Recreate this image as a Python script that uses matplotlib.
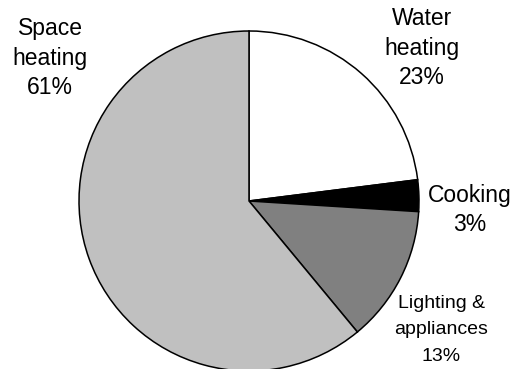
import matplotlib
matplotlib.use("Agg")
import matplotlib.pyplot as plt

categories = ["Water\nheating", "Cooking", "Lighting &\nappliances", "Space\nheating"]
shares = [23, 3, 13, 61]
colors = ["#ffffff", "#000000", "#808080", "#c0c0c0"]

W, H = 519, 369
fig = plt.figure(figsize=(W / 100, H / 100), dpi=100)
ax = fig.add_axes([0, 0, 1, 1])

cx, cy, r = 249, H - 201, 170
ax.pie(shares, colors=colors, startangle=90, counterclock=False,
       center=(cx, cy), radius=r, frame=True,
       wedgeprops=dict(edgecolor="black", linewidth=1.1))
ax.set_xlim(0, W)
ax.set_ylim(0, H)
ax.set_aspect("equal")
ax.axis("off")

label_pos = [(422, 48), (470, 210), (441, 330), (50, 58)]
label_size = [16.5, 16.5, 14, 16.5]
label_ls = [1.37, 1.37, 1.7, 1.37]
for cat, s, (x, y), fs, ls in zip(categories, shares, label_pos, label_size, label_ls):
    ax.text(x, H - y, f"{cat}\n{s}%", ha="center", va="center",
            fontsize=fs, family="Liberation Sans", linespacing=ls)

fig.savefig("out.png", dpi=100)
